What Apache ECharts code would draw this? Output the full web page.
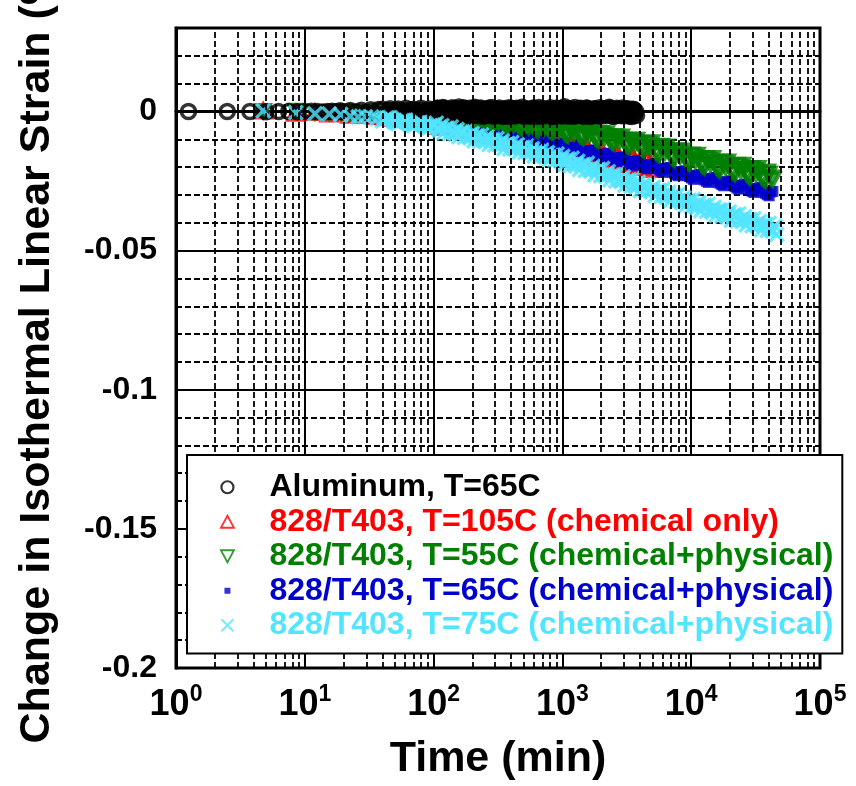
<!DOCTYPE html>
<html><head><meta charset="utf-8">
<script src="https://cdn.jsdelivr.net/npm/echarts@6/dist/echarts.min.js"></script>
<style>html,body{margin:0;padding:0;background:#fff}#c{width:856px;height:786px}</style>
</head><body><div id="c"></div>
<script>
// ---------- data ----------
const seriesNames = [
  'Aluminum, T=65C',
  '828/T403, T=105C (chemical only)',
  '828/T403, T=55C (chemical+physical)',
  '828/T403, T=65C (chemical+physical)',
  '828/T403, T=75C (chemical+physical)'
];
const seriesColors = ['#000000', '#ff0000', '#008000', '#0000cc', '#52e5ff'];

// Aluminum sampling times (min)
const tAl = [1.25,2.5,3.75,5,6.25,7.5,8.75,10,11.25,12.5,13.75,15,16.25,17.5,18.75,20,22.5,25,27.5,30,32.5,35,37.5,
40,41.5,43,44.5,46,47.7,49.5,51.2,53,55,
57,59,61,63,65,67.5,70,72.5,75,77.5,
80,83,86,89,92,95,98,101.5,105,108.5,
112,116,120,124,128,132.5,137,142,147,152,
157,162.5,168,174,180,186.5,193,199.5,206,213,
220,228,236,244,252,261,270,279.5,289,299,
309,319.5,330,341.5,353,365.5,378,391,404,418,
432,447,462,478,494,511.5,529,547.5,566,585.5,
605,626.5,648,670.5,693,717,741,767,793,821,
849,878.5,908,940,972,1006,1040,1075,1110,1150,
1190,1230,1270,1315,1360,1410,1460,1510,1560,1615,
1670,1730,1790,1850,1910,1980,2050,2120,2190,2265,
2340,2425,2510,2595,2680,2775,2870,2970,3070,3180,
3290,3400,3520,3640,3760];
const yAl = [0,0,0,-0.0001,0,0,-0.0001,0,0.0001,0,-0.0002,0,0.0001,-0.0001,0.0002,-0.0002,0.0003,-0.0003,0.0004,-0.0004,0.0006,-0.0005,0.0007,
0.0008,-0.0010,-0.0015,0.0003,0.0010,-0.0006,-0.0013,0.0005,0.0009,-0.0011,
-0.0016,0.0002,0.0011,-0.0008,-0.0014,0.0006,0.0008,-0.0012,-0.0015,0.0004,
0.0011,-0.0007,-0.0016,0.0003,0.0009,-0.0010,-0.0014,0.0006,0.0010,-0.0009,
-0.0015,0.0002,0.0012,-0.0006,-0.0016,0.0005,0.0009,-0.0011,-0.0013,0.0004,
0.0016,-0.0008,-0.0015,0.0003,0.0010,-0.0010,-0.0016,0.0006,0.0011,-0.0007,
-0.0014,0.0002,0.0009,-0.0012,-0.0015,0.0005,0.0012,-0.0006,-0.0016,0.0003,
0.0010,-0.0010,-0.0014,0.0006,0.0008,-0.0011,-0.0017,0.0004,0.0011,-0.0008,
-0.0015,0.0003,0.0010,-0.0009,-0.0016,0.0005,0.0009,-0.0012,-0.0014,0.0002,
0.0011,-0.0007,-0.0017,0.0004,0.0010,-0.0010,-0.0015,0.0006,0.0008,-0.0011,
-0.0016,0.0003,0.0011,-0.0008,-0.0014,0.0005,0.0017,-0.0009,-0.0016,0.0004,
0.0009,-0.0011,-0.0015,0.0006,0.0010,-0.0007,-0.0017,0.0003,0.0011,-0.0010,
-0.0014,0.0005,0.0009,-0.0012,-0.0016,0.0004,0.0010,-0.0008,-0.0015,0.0006,
0.0011,-0.0009,-0.0017,0.0002,0.0009,-0.0011,-0.0015,0.0005,0.0010,-0.0008,
-0.0016,0.0004,0.0008,-0.0012,-0.0014];
// additional Aluminum readings in the dense part of the record
const tAl2 = [103,107,110,114,118,122,126,130,135,139.5,
144.5,149.5,154.5,160,165,171,177,183,190,196,
203,209.5,216.5,224,232,240,248,256.5,265.5,275,
284,294,304,314,325,336,347,359,372,384.5,
397.5,411,425,439.5,454.5,470,486,503,520,538,
557,576,595,616,637,659,682,705,729,754,
780,807,835,864,893,924,956,989,1023,1057,
1093,1130,1170,1210,1250,1292,1337,1385,1435,1485,
1535,1587,1642,1700,1760,1820,1880,1945,2015,2085,
2155,2227,2302,2382,2467,2552,2637,2727,2822,2920,
3020,3125,3235,3345,3460,3580,3700];
const yAl2 = [-0.0004,0.0012,-0.0011,0.0001,0.0014,-0.0003,-0.0018,0.0008,-0.0006,0.0013,
-0.0012,-0.0001,0.0010,-0.0016,0.0005,0.0013,-0.0009,-0.0003,0.0011,-0.0014,
0.0000,0.0015,-0.0010,-0.0005,0.0012,-0.0017,0.0004,0.0009,-0.0013,0.0001,
0.0014,-0.0007,-0.0015,0.0007,0.0012,-0.0004,-0.0018,0.0010,-0.0002,0.0013,
-0.0011,-0.0016,0.0006,0.0011,-0.0008,0.0002,0.0015,-0.0013,-0.0005,0.0009,
-0.0017,0.0003,0.0012,-0.0010,-0.0004,0.0014,-0.0015,0.0000,0.0010,-0.0012,
0.0005,0.0013,-0.0018,-0.0002,0.0011,-0.0009,0.0007,-0.0016,0.0012,-0.0006,
-0.0013,0.0009,0.0002,-0.0017,0.0014,-0.0004,-0.0010,0.0011,-0.0015,0.0006,
0.0012,-0.0008,-0.0018,0.0004,0.0010,-0.0012,0.0001,0.0013,-0.0016,-0.0003,
0.0009,-0.0011,0.0015,-0.0007,-0.0017,0.0006,0.0011,-0.0013,-0.0002,0.0012,
-0.0015,0.0003,0.0010,-0.0009,-0.0018,0.0007,0.0001];

// 828/T403 sampling times (min), shared by the four epoxy runs
const tPoly = [4.75,8.5,12,15.5,19,22.5,26,29.5,33,36.5,
40,43,46,49.5,53,57,61,65,70,75,
80,86,92,98,105,112,120,128,137,147,
157,168,180,193,206,220,236,252,270,289,
309,330,353,378,404,432,462,494,529,566,
605,648,693,741,793,849,908,972,1040,1110,
1190,1270,1360,1460,1560,1670,1790,1910,2050,2190,
2340,2510,2680,2870,3070,3290,3520,3760,4030,4310,
4610,4930,5280,5650,6040,6470,6920,7400,7920,8480,
9070,9710,10400,11100,11900,12700,13600,14600,15600,16700,
17900,19100,20500,21900,23400,25100,26800,28700,30700,32900,
35200,37600,40300,43100,46100];
// in-between readings (dense part of the records)
const tPoly2 = [41.5,44.5,47.7,51.2,55,59,63,67.5,72.5,77.5,
83,89,95,101.5,108.5,116,124,132.5,142,152,
162.5,174,186.5,199.5,213,228,244,261,279.5,299,
319.5,341.5,365.5,391,418,447,478,511.5,547.5,585.5,
626.5,670.5,717,767,821,878.5,940,1006,1075,1150,
1230,1315,1410,1510,1615,1730,1850,1980,2120,2265,
2425,2595,2775,2970,3180,3400,3640,3890,4170,4460,
4770,5100,5460,5840,6250,6690,7160,7660,8200,8770,
9380,10050,10750,11500,12300,13150,14100,15100,16150,17300,
18500,19800,21200,22650,24250,25950,27750,29700,31800,34050,
36400,38950,41700,44600];

const yRed = [0.0002,-0.0006,-0.0003,-0.0009,-0.0005,-0.0013,-0.0009,-0.0014,-0.0010,-0.0018,
-0.0014,-0.0020,-0.0016,-0.0024,-0.0021,-0.0026,-0.0023,-0.0031,-0.0027,-0.0033,
-0.0029,-0.0037,-0.0034,-0.0039,-0.0028,-0.0054,-0.0039,-0.0053,-0.0038,-0.0065,
-0.0049,-0.0064,-0.0048,-0.0075,-0.0059,-0.0074,-0.0058,-0.0085,-0.0069,-0.0084,
-0.0069,-0.0095,-0.0080,-0.0094,-0.0079,-0.0105,-0.0090,-0.0104,-0.0089,-0.0116,
-0.0100,-0.0115,-0.0099,-0.0126,-0.0110,-0.0125,-0.0109,-0.0136,-0.0118,-0.0140,
-0.0117,-0.0156,-0.0133,-0.0155,-0.0132,-0.0171,-0.0148,-0.0170,-0.0147,-0.0184,
-0.0159,-0.0180,-0.0155,-0.0193,-0.0169,-0.0188,-0.0163,-0.0201,-0.0176,-0.0195,
-0.0170,-0.0208];
const yRed2 = [-0.0019,-0.0016,-0.0019,-0.0023,-0.0026,-0.0023,-0.0026,-0.0029,-0.0032,-0.0029,
-0.0032,-0.0036,-0.0039,-0.0036,-0.0039,-0.0046,-0.0056,-0.0039,-0.0049,-0.0056,
-0.0066,-0.0049,-0.0059,-0.0066,-0.0076,-0.0059,-0.0069,-0.0076,-0.0086,-0.0070,
-0.0080,-0.0087,-0.0097,-0.0080,-0.0090,-0.0097,-0.0107,-0.0090,-0.0100,-0.0107,
-0.0117,-0.0100,-0.0110,-0.0117,-0.0127,-0.0110,-0.0120,-0.0128,-0.0143,-0.0119,
-0.0133,-0.0144,-0.0158,-0.0134,-0.0148,-0.0159,-0.0173,-0.0149,-0.0162,-0.0171,
-0.0184,-0.0158,-0.0170,-0.0180,-0.0193,-0.0166,-0.0178,-0.0188,-0.0200,-0.0173,
-0.0185];

const yGreen = [0.0001,0.0002,-0.0003,-0.0005,-0.0001,0.0000,-0.0005,-0.0006,-0.0002,-0.0001,
-0.0006,-0.0008,-0.0003,-0.0002,-0.0008,-0.0009,-0.0005,-0.0004,-0.0010,-0.0011,
-0.0007,-0.0006,-0.0011,-0.0013,-0.0006,-0.0003,-0.0020,-0.0026,-0.0013,-0.0010,
-0.0026,-0.0033,-0.0020,-0.0017,-0.0033,-0.0040,-0.0027,-0.0023,-0.0040,-0.0047,
-0.0033,-0.0030,-0.0047,-0.0053,-0.0040,-0.0037,-0.0054,-0.0060,-0.0047,-0.0044,
-0.0060,-0.0067,-0.0054,-0.0050,-0.0067,-0.0074,-0.0061,-0.0057,-0.0077,-0.0086,
-0.0066,-0.0061,-0.0086,-0.0095,-0.0075,-0.0070,-0.0095,-0.0104,-0.0084,-0.0079,
-0.0104,-0.0114,-0.0095,-0.0090,-0.0116,-0.0126,-0.0107,-0.0102,-0.0128,-0.0138,
-0.0119,-0.0111,-0.0144,-0.0156,-0.0131,-0.0126,-0.0158,-0.0172,-0.0147,-0.0141,
-0.0173,-0.0187,-0.0162,-0.0156,-0.0188,-0.0200,-0.0175,-0.0168,-0.0200,-0.0212,
-0.0187,-0.0180,-0.0212,-0.0224,-0.0199,-0.0192,-0.0224,-0.0236,-0.0211,-0.0204,
-0.0236,-0.0248,-0.0223,-0.0245];
const yGreen2 = [-0.0005,-0.0004,-0.0007,-0.0003,-0.0007,-0.0006,-0.0009,-0.0005,-0.0009,-0.0008,
-0.0011,-0.0007,-0.0010,-0.0010,-0.0014,-0.0011,-0.0024,-0.0009,-0.0021,-0.0018,
-0.0030,-0.0016,-0.0028,-0.0025,-0.0037,-0.0023,-0.0035,-0.0031,-0.0044,-0.0030,
-0.0041,-0.0038,-0.0051,-0.0036,-0.0048,-0.0045,-0.0058,-0.0043,-0.0055,-0.0052,
-0.0064,-0.0050,-0.0062,-0.0058,-0.0071,-0.0057,-0.0069,-0.0065,-0.0082,-0.0061,
-0.0078,-0.0072,-0.0091,-0.0069,-0.0087,-0.0081,-0.0100,-0.0078,-0.0096,-0.0090,
-0.0110,-0.0089,-0.0107,-0.0102,-0.0122,-0.0101,-0.0119,-0.0114,-0.0134,-0.0113,
-0.0131,-0.0126,-0.0151,-0.0124,-0.0147,-0.0141,-0.0166,-0.0140,-0.0162,-0.0156,
-0.0181,-0.0155,-0.0178,-0.0171,-0.0195,-0.0168,-0.0190,-0.0183,-0.0207,-0.0180,
-0.0202,-0.0195,-0.0219,-0.0192,-0.0214,-0.0207,-0.0231,-0.0204,-0.0226,-0.0219,
-0.0243,-0.0216,-0.0238];

const yBlue = [-0.0002,-0.0002,-0.0002,-0.0007,-0.0009,-0.0008,-0.0008,-0.0012,-0.0014,-0.0013,
-0.0009,-0.0020,-0.0024,-0.0017,-0.0015,-0.0026,-0.0030,-0.0023,-0.0021,-0.0032,
-0.0036,-0.0029,-0.0027,-0.0037,-0.0049,-0.0033,-0.0030,-0.0050,-0.0059,-0.0044,
-0.0040,-0.0061,-0.0069,-0.0054,-0.0051,-0.0071,-0.0080,-0.0064,-0.0061,-0.0082,
-0.0090,-0.0075,-0.0071,-0.0092,-0.0100,-0.0085,-0.0082,-0.0102,-0.0111,-0.0095,
-0.0092,-0.0112,-0.0121,-0.0106,-0.0102,-0.0123,-0.0131,-0.0116,-0.0113,-0.0134,
-0.0143,-0.0128,-0.0125,-0.0147,-0.0156,-0.0141,-0.0138,-0.0159,-0.0168,-0.0153,
-0.0150,-0.0172,-0.0181,-0.0166,-0.0163,-0.0184,-0.0194,-0.0179,-0.0176,-0.0197,
-0.0206,-0.0191,-0.0188,-0.0209,-0.0219,-0.0204,-0.0201,-0.0222,-0.0231,-0.0216,
-0.0213,-0.0234,-0.0244,-0.0229,-0.0226,-0.0246,-0.0255,-0.0240,-0.0237,-0.0258,
-0.0267,-0.0252,-0.0249,-0.0270,-0.0279,-0.0264,-0.0261,-0.0282,-0.0291,-0.0276,
-0.0273,-0.0294,-0.0303,-0.0287];
const yBlue2 = [-0.0018,-0.0022,-0.0017,-0.0016,-0.0024,-0.0028,-0.0024,-0.0022,-0.0030,-0.0034,
-0.0030,-0.0028,-0.0035,-0.0040,-0.0035,-0.0032,-0.0046,-0.0055,-0.0046,-0.0042,
-0.0057,-0.0065,-0.0056,-0.0053,-0.0067,-0.0076,-0.0066,-0.0063,-0.0078,-0.0086,
-0.0077,-0.0073,-0.0088,-0.0096,-0.0087,-0.0084,-0.0098,-0.0107,-0.0097,-0.0094,
-0.0108,-0.0117,-0.0108,-0.0104,-0.0119,-0.0127,-0.0118,-0.0115,-0.0130,-0.0139,
-0.0130,-0.0127,-0.0142,-0.0152,-0.0143,-0.0140,-0.0155,-0.0164,-0.0155,-0.0152,
-0.0167,-0.0177,-0.0168,-0.0165,-0.0180,-0.0189,-0.0181,-0.0178,-0.0193,-0.0202,
-0.0193,-0.0190,-0.0205,-0.0214,-0.0206,-0.0203,-0.0218,-0.0227,-0.0218,-0.0215,
-0.0230,-0.0239,-0.0231,-0.0228,-0.0242,-0.0251,-0.0242,-0.0239,-0.0254,-0.0263,
-0.0254,-0.0251,-0.0266,-0.0275,-0.0266,-0.0263,-0.0278,-0.0287,-0.0278,-0.0275,
-0.0290,-0.0299,-0.0289];

const yCyan = [0.0002,-0.0004,-0.0008,-0.0009,-0.0011,-0.0017,-0.0020,-0.0019,-0.0020,-0.0025,
-0.0034,-0.0024,-0.0022,-0.0037,-0.0043,-0.0033,-0.0031,-0.0045,-0.0051,-0.0041,
-0.0039,-0.0053,-0.0059,-0.0049,-0.0042,-0.0067,-0.0077,-0.0060,-0.0056,-0.0081,
-0.0091,-0.0074,-0.0070,-0.0095,-0.0105,-0.0087,-0.0084,-0.0108,-0.0119,-0.0101,
-0.0098,-0.0122,-0.0133,-0.0115,-0.0112,-0.0136,-0.0146,-0.0129,-0.0125,-0.0150,
-0.0160,-0.0143,-0.0139,-0.0164,-0.0174,-0.0157,-0.0153,-0.0178,-0.0191,-0.0171,
-0.0168,-0.0196,-0.0209,-0.0190,-0.0186,-0.0215,-0.0228,-0.0208,-0.0205,-0.0234,
-0.0246,-0.0227,-0.0224,-0.0252,-0.0265,-0.0246,-0.0242,-0.0271,-0.0284,-0.0264,
-0.0261,-0.0289,-0.0302,-0.0283,-0.0279,-0.0308,-0.0321,-0.0301,-0.0298,-0.0327,
-0.0339,-0.0320,-0.0316,-0.0345,-0.0357,-0.0337,-0.0333,-0.0362,-0.0374,-0.0354,
-0.0351,-0.0379,-0.0391,-0.0371,-0.0368,-0.0396,-0.0408,-0.0388,-0.0385,-0.0413,
-0.0425,-0.0405,-0.0402,-0.0430,-0.0442];
const yCyan2 = [-0.0029,-0.0023,-0.0030,-0.0040,-0.0038,-0.0032,-0.0038,-0.0048,-0.0046,-0.0040,
-0.0046,-0.0056,-0.0054,-0.0048,-0.0062,-0.0051,-0.0061,-0.0079,-0.0075,-0.0065,
-0.0075,-0.0093,-0.0090,-0.0079,-0.0089,-0.0107,-0.0103,-0.0092,-0.0103,-0.0121,
-0.0117,-0.0106,-0.0117,-0.0135,-0.0131,-0.0120,-0.0131,-0.0148,-0.0145,-0.0134,
-0.0145,-0.0162,-0.0159,-0.0148,-0.0159,-0.0176,-0.0173,-0.0162,-0.0173,-0.0194,
-0.0190,-0.0179,-0.0192,-0.0212,-0.0209,-0.0198,-0.0210,-0.0231,-0.0228,-0.0216,
-0.0229,-0.0250,-0.0246,-0.0235,-0.0248,-0.0268,-0.0265,-0.0254,-0.0266,-0.0287,
-0.0283,-0.0272,-0.0285,-0.0305,-0.0302,-0.0291,-0.0303,-0.0324,-0.0321,-0.0309,
-0.0322,-0.0342,-0.0339,-0.0327,-0.0339,-0.0359,-0.0356,-0.0344,-0.0356,-0.0376,
-0.0373,-0.0361,-0.0373,-0.0394,-0.0390,-0.0378,-0.0390,-0.0411,-0.0407,-0.0395,
-0.0407,-0.0428,-0.0424,-0.0412];

// minor (dashed) time grid positions
const minorTimes = [2,3,4,5,6,7,8,9,20,30,40,50,60,70,80,90,200,300,400,500,600,700,800,900,
2000,3000,4000,5000,6000,7000,8000,9000,20000,30000,40000,50000,60000,70000,80000,90000];
const yMajorTicks = [-0.2,-0.15,-0.1,-0.05,0];

// ---------- chart ----------
const FONT = "'Liberation Sans', Arial, Helvetica, sans-serif";
function pairs(ts, ys){ const n=Math.min(ts.length, ys.length); const o=[]; for(let i=0;i<n;i++) o.push([ts[i], ys[i]]); return o; }
function merged(t1, y1, t2, y2){ return pairs(t1, y1).concat(pairs(t2, y2)).sort((a,b)=>a[0]-b[0]); }
const CLEAR = 'rgba(0,0,0,0)';
const X_PATH = 'path://M0,0L10,10M10,0L0,10';
const UP_PATH = 'path://M6,0L12,11L0,11Z';
const DOWN_PATH = 'path://M0,0L12,0L6,11Z';

const chart = echarts.init(document.getElementById('c'), null, {renderer:'canvas'});
const option = {
  animation:false,
  backgroundColor:'#ffffff',
  grid:{left:176, top:28, width:644, height:640, show:true, borderColor:'#000', borderWidth:3,
        backgroundColor:'transparent', containLabel:false, outerBoundsMode:'none'},
  xAxis:{
    type:'log', logBase:10, min:1, max:100000,
    name:'Time (min)', nameLocation:'middle', nameGap:70,
    nameTextStyle:{fontFamily:FONT, fontSize:43, fontWeight:'bold', color:'#000'},
    axisLine:{show:true, lineStyle:{color:'#000', width:3}},
    axisTick:{show:false},
    axisLabel:{show:true, margin:15, showMinLabel:true, showMaxLabel:true, hideOverlap:false,
      formatter: v => '{b|10}{s|' + Math.round(Math.log10(v)) + '}',
      rich:{
        b:{fontFamily:FONT, fontSize:36, fontWeight:'bold', color:'#000', lineHeight:40, verticalAlign:'bottom'},
        s:{fontFamily:FONT, fontSize:23, fontWeight:'bold', color:'#000', lineHeight:12, verticalAlign:'top'}
      }},
    splitLine:{show:true, lineStyle:{color:'#000', width:2, type:'solid'}},
    minorTick:{show:false}, minorSplitLine:{show:false}
  },
  yAxis:{
    type:'value', min:-0.2, max:0.03, interval:0.05,
    name:'Change in Isothermal Linear Strain (%)', nameLocation:'middle', nameGap:117,
    nameTextStyle:{fontFamily:FONT, fontSize:43, fontWeight:'bold', color:'#000'},
    axisLine:{show:true, lineStyle:{color:'#000', width:3}},
    axisTick:{show:false},
    axisLabel:{margin:19, fontFamily:FONT, fontSize:32, fontWeight:'bold', color:'#000',
      showMinLabel:true, showMaxLabel:true,
      formatter: v => { const m = yMajorTicks.find(t => Math.abs(t - v) < 1e-9); return m === undefined ? '' : String(m); }},
    splitLine:{show:true, lineStyle:{color:'#000', width:2, type:'solid'}},
    minorTick:{show:false, splitNumber:5},
    minorSplitLine:{show:true, lineStyle:{color:'#000', width:1.8, type:[6,3]}}
  },
  legend:{
    show:true, orient:'vertical', left:187, top:455,
    padding:[15,9,11,33], itemGap:0, itemWidth:74, itemHeight:12,
    backgroundColor:'#ffffff', borderColor:'#000', borderWidth:2, borderRadius:0,
    selectedMode:false, z:10,
    textStyle:{fontFamily:FONT, fontSize:32, fontWeight:'bold', lineHeight:34.5},
    data:[
      {name:seriesNames[0], icon:'circle', itemStyle:{color:'#fff', borderColor:seriesColors[0], borderWidth:2.2}, textStyle:{color:seriesColors[0]}},
      {name:seriesNames[1], icon:UP_PATH, itemStyle:{color:'#fff', borderColor:seriesColors[1], borderWidth:1.8}, textStyle:{color:seriesColors[1]}},
      {name:seriesNames[2], icon:DOWN_PATH, itemStyle:{color:'#fff', borderColor:seriesColors[2], borderWidth:1.8}, textStyle:{color:seriesColors[2]}},
      {name:seriesNames[3], icon:'path://M0,0M12,12M3,3L9,3L9,9L3,9Z', itemStyle:{color:seriesColors[3], borderWidth:0}, textStyle:{color:seriesColors[3]}},
      {name:seriesNames[4], icon:X_PATH, itemStyle:{color:CLEAR, borderColor:seriesColors[4], borderWidth:1.8}, textStyle:{color:seriesColors[4]}}
    ]
  },
  series:[
    {type:'scatter', name:'_minorgrid', data:[], z:1, silent:true,
     markLine:{silent:true, symbol:['none','none'], label:{show:false}, animation:false,
       emphasis:{disabled:true},
       lineStyle:{color:'#000', width:1.8, type:[6,3]},
       data: minorTimes.map(v => ({xAxis:v}))}},
    {type:'scatter', name:seriesNames[1], data:merged(tPoly, yRed, tPoly2, yRed2), symbol:'triangle', symbolSize:[16,14],
     itemStyle:{color:CLEAR, borderColor:seriesColors[1], borderWidth:3.4}, emphasis:{disabled:true}, silent:true},
    {type:'scatter', name:seriesNames[3], data:merged(tPoly, yBlue, tPoly2, yBlue2), symbol:'rect', symbolSize:11,
     itemStyle:{color:seriesColors[3], borderWidth:0}, emphasis:{disabled:true}, silent:true},
    {type:'scatter', name:seriesNames[2], data:merged(tPoly, yGreen, tPoly2, yGreen2), symbol:'triangle', symbolRotate:180, symbolSize:[14,13],
     itemStyle:{color:CLEAR, borderColor:seriesColors[2], borderWidth:3.4}, emphasis:{disabled:true}, silent:true},
    {type:'scatter', name:seriesNames[0], data:merged(tAl, yAl, tAl2, yAl2), symbol:'circle', symbolSize:14,
     itemStyle:{color:CLEAR, borderColor:seriesColors[0], borderWidth:3.6}, emphasis:{disabled:true}, silent:true},
    {type:'scatter', name:seriesNames[4], data:merged(tPoly, yCyan, tPoly2, yCyan2), symbol:X_PATH, symbolSize:14,
     itemStyle:{color:CLEAR, borderColor:seriesColors[4], borderWidth:3.4}, emphasis:{disabled:true}, silent:true}
  ]
};
chart.setOption(option);
</script>
</body></html>
